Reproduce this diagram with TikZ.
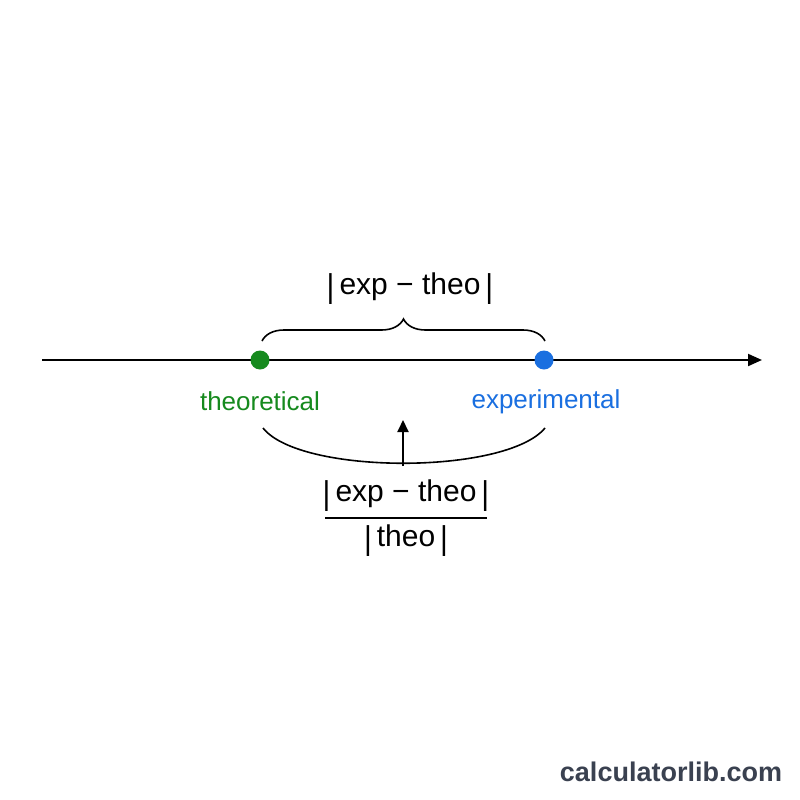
\documentclass[tikz,border=0pt]{standalone}
\usepackage{fontspec}
\setmainfont{Liberation Sans}
\usetikzlibrary{decorations.pathreplacing,arrows.meta}
\definecolor{tgreen}{HTML}{168A1E}
\definecolor{eblue}{HTML}{1A6FE0}
\definecolor{wm}{HTML}{3A4150}
\tikzset{axisline/.style={line width=2pt,-{Triangle[length=14pt,width=12pt]}},
 lbl/.style={font=\fontsize{26}{30}\selectfont},
 big/.style={font=\fontsize{30}{34}\selectfont},
 dot/.style={circle,minimum size=19pt,inner sep=0pt}}
\newcommand{\vb}{\raisebox{-0.1em}{\scalebox{1}[1.1]{|}}}
\begin{document}
\begin{tikzpicture}[x=1pt,y=-1pt]
\useasboundingbox[fill=white] (0,0) rectangle (800,800);
\coordinate (L) at (42,360);
\coordinate (R) at (762,360);
\draw[axisline] (L) -- (R);
\node[dot,fill=tgreen] (t) at (260,360) {};
\node[dot,fill=eblue] (e) at (544,360) {};
\coordinate (b1) at (262,341);
\coordinate (b2) at (545,341);
\draw[line width=1.6pt,decorate,decoration={brace,amplitude=22pt}] (b1) -- (b2);
\node[big] (top) at (410,289) {\vb\,exp\;−\;theo\,\vb};
\node[lbl,text=tgreen] (tl) at (260,401) {theoretical};
\node[lbl,text=eblue] (el) at (546,402) {experimental};
\coordinate (a1) at (263,428);
\coordinate (a2) at (545,428);
\coordinate (am) at (403,466);
\draw[line width=1.6pt] (a1) .. controls (300,475) and (506,475) .. (a2);
\coordinate (at) at (403,420);
\draw[line width=2pt,-{Triangle[length=12pt,width=11pt]}] (am) -- (at);
\node[big] (num) at (406,496) {\vb\,exp\;−\;theo\,\vb};
\coordinate (f1) at (325,518);
\coordinate (f2) at (487,518);
\draw[line width=1.6pt] (f1) -- (f2);
\node[big] (den) at (406,541) {\vb\,theo\,\vb};
\node[font=\bfseries\fontsize{27}{30}\selectfont,text=wm] (wmk) at (671,772) {calculatorlib.com};
\end{tikzpicture}
\end{document}
